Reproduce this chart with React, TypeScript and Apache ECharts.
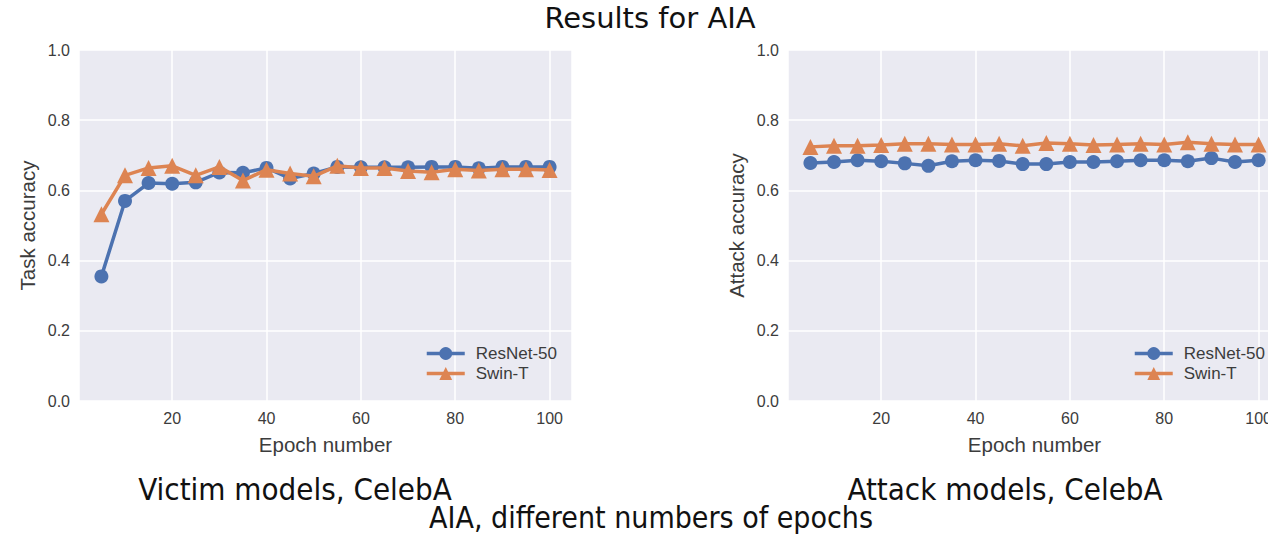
import React, { useEffect, useRef } from "react";
import * as echarts from "echarts";

const epochs = [5, 10, 15, 20, 25, 30, 35, 40, 45, 50, 55, 60, 65, 70, 75, 80, 85, 90, 95, 100];
const seriesNames = ["ResNet-50", "Swin-T"];
const victimResNet = [0.355, 0.570, 0.621, 0.619, 0.623, 0.651, 0.650, 0.664, 0.634, 0.648, 0.667, 0.666, 0.666, 0.666, 0.667, 0.667, 0.663, 0.667, 0.667, 0.667];
const victimSwin = [0.532, 0.643, 0.664, 0.670, 0.643, 0.667, 0.628, 0.659, 0.648, 0.640, 0.670, 0.664, 0.664, 0.655, 0.652, 0.660, 0.657, 0.660, 0.660, 0.658];
const attackResNet = [0.678, 0.681, 0.686, 0.683, 0.677, 0.670, 0.683, 0.686, 0.684, 0.675, 0.675, 0.681, 0.681, 0.683, 0.686, 0.686, 0.683, 0.692, 0.681, 0.686];
const attackSwin = [0.724, 0.727, 0.727, 0.729, 0.733, 0.733, 0.731, 0.731, 0.733, 0.727, 0.735, 0.733, 0.729, 0.731, 0.733, 0.731, 0.737, 0.733, 0.731, 0.731];
const yTicks = [0, 0.2, 0.4, 0.6, 0.8, 1.0];
const xTickStep = 20;
const yAxisNames = ["Task accuracy", "Attack accuracy"];
const xAxisName = "Epoch number";
const mainTitle = "Results for AIA";
const subTitles = ["Victim models, CelebA", "Attack models, CelebA"];
const bottomTitle = "AIA, different numbers of epochs";

const BLUE = "#4C72B0";
const ORANGE = "#DD8452";
const TICK_COLOR = "#3c3c3c";
const FONT = "'Liberation Sans', Arial, sans-serif";
const TITLE_FONT = "'DejaVu Sans', sans-serif";
const CAPTION_FONT = "'DejaVu Sans Condensed', 'Liberation Sans Narrow', sans-serif";

export default function App() {
  const ref = useRef<HTMLDivElement>(null);
  useEffect(() => {
    if (!ref.current) return;
    const chart = echarts.init(ref.current, undefined, { renderer: "svg" });
    const gridLefts = [79, 788];
    const xAxes = [0, 1].map((i) => ({
      type: "value",
      gridIndex: i,
      min: 0.25,
      max: 104.75,
      minInterval: xTickStep,
      maxInterval: xTickStep,
      axisLine: { show: false },
      axisTick: { show: false },
      splitLine: { show: true, lineStyle: { color: "#ffffff", width: 1.5 } },
      axisLabel: {
        showMinLabel: false,
        showMaxLabel: false,
        formatter: (v: number) => (v % xTickStep === 0 ? String(v) : ""),
        fontSize: 16,
        color: TICK_COLOR,
        fontFamily: FONT,
        margin: 9,
      },
      name: xAxisName,
      nameLocation: "middle",
      nameGap: 33,
      nameTextStyle: { fontSize: 20.5, color: TICK_COLOR, fontFamily: FONT },
    }));
    const yAxes = [0, 1].map((i) => ({
      type: "value",
      gridIndex: i,
      min: yTicks[0],
      max: yTicks[yTicks.length - 1],
      interval: 0.2,
      axisLine: { show: false },
      axisTick: { show: false },
      splitLine: { show: true, lineStyle: { color: "#ffffff", width: 1.5 } },
      axisLabel: {
        formatter: (v: number) => v.toFixed(1),
        fontSize: 16,
        color: TICK_COLOR,
        fontFamily: FONT,
        margin: 9,
      },
      name: yAxisNames[i],
      nameLocation: "middle",
      nameGap: 41,
      nameTextStyle: { fontSize: 20.5, color: TICK_COLOR, fontFamily: FONT },
    }));
    const mk = (vals: number[]) => epochs.map((e, k) => [e, vals[k]]);
    const lineSeries = (name: string, vals: number[], idx: number, color: string, symbol: string, size: number) => ({
      type: "line",
      name,
      xAxisIndex: idx,
      yAxisIndex: idx,
      data: mk(vals),
      symbol,
      symbolSize: size,
      showAllSymbol: true,
      color,
      lineStyle: { color, width: 3.5 },
      itemStyle: { color },
      emphasis: { disabled: true },
      z: name === seriesNames[0] ? 2 : 3,
    });
    const legendCfg = (left: number) => ({
      left,
      top: 340,
      orient: "vertical",
      itemWidth: 38,
      itemHeight: 16,
      itemGap: 3,
      data: seriesNames,
      lineStyle: { width: 3.5 },
      textStyle: { fontSize: 17, color: TICK_COLOR, fontFamily: FONT, padding: [0, 0, 0, 6] },
    });
    chart.setOption({
      animation: false,
      grid: gridLefts.map((l) => ({
        left: l,
        top: 50,
        width: 493,
        height: 351,
        show: true,
        backgroundColor: "#EAEAF2",
        borderWidth: 0,
        containLabel: false,
      })),
      xAxis: xAxes,
      yAxis: yAxes,
      legend: [legendCfg(420), legendCfg(1128)],
      series: [
        lineSeries(seriesNames[0], victimResNet, 0, BLUE, "circle", 14),
        lineSeries(seriesNames[1], victimSwin, 0, ORANGE, "triangle", 16),
        lineSeries(seriesNames[0], attackResNet, 1, BLUE, "circle", 14),
        lineSeries(seriesNames[1], attackSwin, 1, ORANGE, "triangle", 16),
      ],
      graphic: [
        { type: "text", x: 650, y: 18, style: { text: mainTitle, font: `29px ${TITLE_FONT}`, fill: "#111", textAlign: "center", textVerticalAlign: "middle" } },
        { type: "text", x: 295, y: 489, style: { text: subTitles[0], font: `31px ${CAPTION_FONT}`, fill: "#111", textAlign: "center", textVerticalAlign: "middle" } },
        { type: "text", x: 1005, y: 489, style: { text: subTitles[1], font: `31px ${CAPTION_FONT}`, fill: "#111", textAlign: "center", textVerticalAlign: "middle" } },
        { type: "text", x: 651, y: 517, style: { text: bottomTitle, font: `30px ${CAPTION_FONT}`, fill: "#111", textAlign: "center", textVerticalAlign: "middle" } },
      ],
    });
    return () => chart.dispose();
  }, []);
  return (
    <div style={{ position: "fixed", left: 0, top: 0, width: 1268, height: 534, overflow: "hidden", background: "#fff" }}>
      <div ref={ref} style={{ width: 1300, height: 534 }} />
    </div>
  );
}
